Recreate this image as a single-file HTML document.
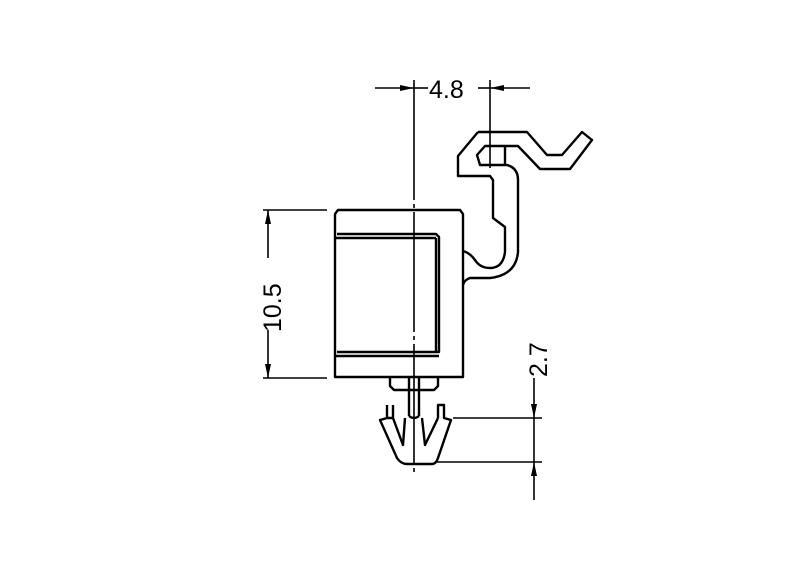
<!DOCTYPE html>
<html><head><style>body{margin:0;background:#fff}svg{display:block}</style></head><body>
<svg width="800" height="576" viewBox="0 0 800 576" xmlns="http://www.w3.org/2000/svg">
<g fill="none" stroke="#000" stroke-width="2.4" stroke-linejoin="round">
<path d="M335 214 L338 210 L460 210 L463 214 L463 377 L335 377 Z"/>
<path d="M337 234 L436 234 L439 237 L439 352 L337 352"/>
<line x1="336" y1="238" x2="436" y2="238"/>
<line x1="436" y1="238" x2="436" y2="352"/>
<line x1="336" y1="356" x2="439" y2="356"/>
<path d="M478 132 L527 132 L547 155 L562 155 L582 132 L592 140 L570 169 L540 169 L518 146 L485 146 L477 155 L480 165 L507 165 Q518 168 518 180 L518 252 Q516 275 490 278 L470 278 Q464 280 463 285"/>
<path d="M478 132 L458 156 L458 176 L490 176 L493 180 L493 218 L505 227 L505 252 Q503 268 490 268 Q480 268 475 260 Q470 253 463 251"/>
<line x1="505" y1="146" x2="505" y2="165"/>
<path d="M390 377 L390 386 L394 390 L434 390 L438 386 L438 377"/>
<path d="M409 377 L409 416 M419 377 L419 416"/>
<path d="M409 416 Q414 420 419 416"/>
<path d="M387 405 L387 418 L380 420 L397 458 Q401 464 407 464 L432 464 Q436 464 438 458 L451 420 L444 418 L444 405 L438 405 L438 418"/>
<path d="M393 405 L393 418 L387 418 M393 418 L403 445 L405 418 M422 418 L425 445 L438 418"/>
</g>
<line x1="414" y1="80" x2="414" y2="474" stroke="#000" stroke-width="1.6" stroke-dasharray="120 4 4 4"/>
<g stroke="#000" stroke-width="1.6" fill="none">
<line x1="490" y1="80" x2="490" y2="168"/>
<line x1="375" y1="88" x2="414" y2="88"/>
<line x1="490" y1="88" x2="530" y2="88"/>
<line x1="414" y1="88" x2="428" y2="88"/>
<line x1="478" y1="88" x2="490" y2="88"/>
<line x1="263" y1="210" x2="327" y2="210"/>
<line x1="263" y1="378" x2="327" y2="378"/>
<line x1="268" y1="210" x2="268" y2="258"/>
<line x1="268" y1="330" x2="268" y2="378"/>
<line x1="453" y1="418" x2="542" y2="418"/>
<line x1="437" y1="462" x2="542" y2="462"/>
<line x1="534" y1="378" x2="534" y2="500"/>
</g>
<g fill="#000">
<path d="M414 88 L400 85 L400 91 Z"/>
<path d="M490 88 L504 85 L504 91 Z"/>
<path d="M268 210 L265 224 L271 224 Z"/>
<path d="M268 378 L265 364 L271 364 Z"/>
<path d="M534 418 L531 404 L537 404 Z"/>
<path d="M534 462 L531 476 L537 476 Z"/>
</g>
<g font-family="Liberation Sans, sans-serif" font-size="25" fill="#000">
<text x="429" y="98">4.8</text>
<text transform="translate(281 332) rotate(-90)">10.5</text>
<text transform="translate(547 377) rotate(-90)">2.7</text>
</g>
</svg>
</body></html>
